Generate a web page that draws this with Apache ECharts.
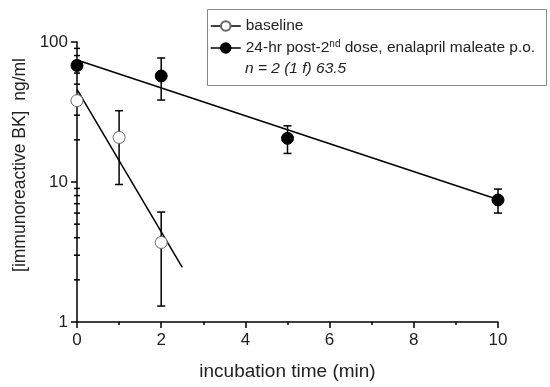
<!DOCTYPE html>
<html><head><meta charset="utf-8">
<script src="https://cdn.jsdelivr.net/npm/echarts@6/dist/echarts.min.js"></script>
<style>html,body{margin:0;padding:0;background:#fff}#c{width:550px;height:387px}</style>
</head><body><div id="c"></div>
<script>
// Data
const baselineX = [0, 1, 2];
const baselineY = [38.1, 20.8, 3.7];
const baselineLo = [38.1, 9.6, 1.3];
const baselineHi = [38.1, 32.3, 6.1];
const postX = [0, 2, 5, 10];
const postY = [68, 57.2, 20.5, 7.44];
const postLo = [66, 38.5, 16.0, 6.0];
const postHi = [70, 76.9, 25.2, 8.9];
const fitBaseline = [[0, 45.9], [2.5, 2.46]];
const fitPost = [[0, 74.3], [10, 7.5]];
const yMinorTicks = [2,3,4,5,6,7,8,9,20,30,40,50,60,70,80,90];
const seriesNames = ['baseline', '24-hr post-2nd dose, enalapril maleate p.o.'];
const noteText = 'n = 2 (1 f) 63.5';

const FONT = 'Liberation Sans, Arial, sans-serif';
const chart = echarts.init(document.getElementById('c'));

function errItem(xs, lo, hi) { return xs.map((x, i) => [x, lo[i], hi[i]]); }
function errRender(params, api) {
  const x = api.value(0);
  const p1 = api.coord([x, api.value(1)]);
  const p2 = api.coord([x, api.value(2)]);
  const w = 4;
  const st = { stroke: '#000', lineWidth: 1.5 };
  return { type: 'group', children: [
    { type: 'line', shape: { x1: p1[0], y1: p1[1], x2: p2[0], y2: p2[1] }, style: st },
    { type: 'line', shape: { x1: p1[0]-w, y1: p1[1], x2: p1[0]+w, y2: p1[1] }, style: st },
    { type: 'line', shape: { x1: p2[0]-w, y1: p2[1], x2: p2[0]+w, y2: p2[1] }, style: st }
  ]};
}

chart.setOption({
  animation: false,
  grid: { left: 77, right: 52, top: 42, bottom: 65 },
  legend: {
    orient: 'vertical', left: 205, top: 12, itemGap: 4, itemWidth: 30, itemHeight: 12,
    data: seriesNames,
    textStyle: { fontFamily: FONT, fontSize: 15.5, color: '#222', lineHeight: 18,
      rich: { sup: { fontFamily: FONT, fontSize: 10, color: '#222', lineHeight: 18, verticalAlign: 'top', padding: [0, 0, 0, 0] } } },
    formatter: function (n) { return n.indexOf('2nd') >= 0 ? n.replace('2nd', '2{sup|nd}') : n; },
    lineStyle: { width: 1.5, color: '#000', opacity: 1 }
  },
  xAxis: {
    type: 'value', min: 0, max: 10, interval: 2,
    name: 'incubation time (min)', nameLocation: 'middle', nameGap: 40,
    nameTextStyle: { fontFamily: FONT, fontSize: 19, color: '#222' },
    axisLine: { lineStyle: { color: '#000', width: 1.5 } },
    axisTick: { length: 6, lineStyle: { color: '#000', width: 1.5 } },
    minorTick: { show: true, splitNumber: 2, length: 3, lineStyle: { color: '#000', width: 1.5 } },
    splitLine: { show: false },
    axisLabel: { fontFamily: FONT, fontSize: 17, color: '#222', margin: 10 }
  },
  yAxis: {
    type: 'log', logBase: 10, min: 1, max: 100,
    name: '[immunoreactive BK]  ng/ml', nameLocation: 'middle', nameGap: 45,
    nameTextStyle: { fontFamily: FONT, fontSize: 17.5, color: '#222', padding: [0, 0, 0, 34] },
    axisLine: { show: true, lineStyle: { color: '#000', width: 1.5 } },
    axisTick: { show: true, length: 6, lineStyle: { color: '#000', width: 1.5 } },
    splitLine: { show: false },
    axisLabel: { fontFamily: FONT, fontSize: 17, color: '#222', margin: 9 }
  },
  graphic: [
    { type: 'rect', left: 205, top: 7, shape: { width: 339, height: 76 },
      style: { fill: 'none', stroke: '#888', lineWidth: 1 }, z: 100 },
    { type: 'text', left: 245, top: 61, z: 100,
      style: { text: noteText, font: 'italic 15.5px Liberation Sans, Arial, sans-serif', fill: '#222' } }
  ],
  series: [
    { type: 'custom', renderItem: function (params, api) {
        const p = api.coord([0, api.value(0)]);
        return { type: 'line', shape: { x1: p[0]-3, y1: p[1], x2: p[0]+3, y2: p[1] },
          style: { stroke: '#000', lineWidth: 1.5 } };
      }, data: yMinorTicks.map(v => [v]), encode: { y: 0 }, silent: true, clip: false, z: 1 },
    { type: 'line', data: fitBaseline, showSymbol: false, lineStyle: { color: '#000', width: 1.5 }, z: 2, silent: true },
    { type: 'line', data: fitPost, showSymbol: false, lineStyle: { color: '#000', width: 1.5 }, z: 2, silent: true },
    { type: 'custom', renderItem: errRender, data: errItem(baselineX, baselineLo, baselineHi), z: 3 },
    { type: 'custom', renderItem: errRender, data: errItem(postX, postLo, postHi), z: 3 },
    { name: seriesNames[0], type: 'line', data: baselineX.map((x, i) => [x, baselineY[i]]),
      symbol: 'circle', symbolSize: 12, lineStyle: { width: 0, opacity: 0 },
      itemStyle: { color: '#fff', borderColor: '#666', borderWidth: 1 }, z: 5 },
    { name: seriesNames[1], type: 'line', data: postX.map((x, i) => [x, postY[i]]),
      symbol: 'circle', symbolSize: 12, lineStyle: { width: 0, opacity: 0 },
      itemStyle: { color: '#000', borderColor: '#000', borderWidth: 1 }, z: 5 }
  ]
});
</script></body></html>
